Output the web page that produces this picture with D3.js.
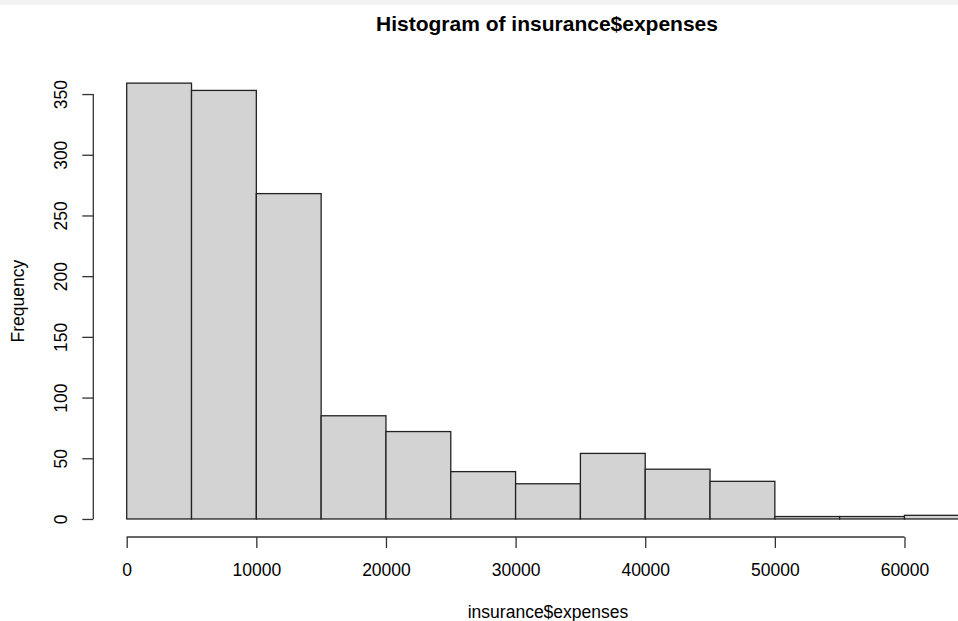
<!DOCTYPE html>
<html>
<head>
<meta charset="utf-8">
<script src="https://cdn.jsdelivr.net/npm/d3@7"></script>
<style>
  html, body { margin: 0; padding: 0; background: #fff; }
  svg { display: block; font-family: "Liberation Sans", Arial, sans-serif; }
</style>
</head>
<body>
<svg id="chart" width="958" height="621"></svg>
<script>
// Histogram bins (lower breaks) and counts
const breaks = [0, 5000, 10000, 15000, 20000, 25000, 30000, 35000, 40000, 45000, 50000, 55000, 60000, 65000];
const counts = [359, 353, 268, 85, 72, 39, 29, 54, 41, 31, 2, 2, 3];
const xTicks = [0, 10000, 20000, 30000, 40000, 50000, 60000];
const yTicks = [0, 50, 100, 150, 200, 250, 300, 350];
const title = "Histogram of insurance$expenses";
const xLabel = "insurance$expenses";
const yLabel = "Frequency";

const svg = d3.select("#chart");
const W = 958, H = 621;

// plot region (R-style 4% expansion of data ranges)
const plot = { left: 93, right: 1003, top: 65.7, bottom: 536.4 };
const xr = [breaks[0], breaks[breaks.length - 1]];
const xpad = (xr[1] - xr[0]) * 0.04;
const yr = [0, d3.max(counts)];
const ypad = (yr[1] - yr[0]) * 0.04;

const x = d3.scaleLinear().domain([xr[0] - xpad, xr[1] + xpad]).range([plot.left, plot.right]);
const y = d3.scaleLinear().domain([yr[0] - ypad, yr[1] + ypad]).range([plot.bottom, plot.top]);

// top gray band
svg.append("rect").attr("x", 0).attr("y", 0).attr("width", W).attr("height", 5).attr("fill", "#f2f2f2");

// bars
const bins = counts.map((c, i) => ({ x0: breaks[i], x1: breaks[i + 1], c }));
svg.append("g").selectAll("rect").data(bins).join("rect")
  .attr("x", d => x(d.x0))
  .attr("y", d => y(d.c))
  .attr("width", d => x(d.x1) - x(d.x0))
  .attr("height", d => y(0) - y(d.c))
  .attr("fill", "#d3d3d3")
  .attr("stroke", "#222")
  .attr("stroke-width", 1.3);

const axisColor = "#333";
const fs = 17.5;

// x axis
const xAxis = svg.append("g").attr("transform", `translate(0,${plot.bottom + 0.6})`)
  .call(d3.axisBottom(x).tickValues(xTicks).tickSize(11).tickSizeOuter(0).tickFormat(d3.format("d")));
xAxis.select(".domain").remove();
xAxis.append("line")
  .attr("x1", x(xTicks[0])).attr("x2", x(xTicks[xTicks.length - 1]))
  .attr("y1", 0).attr("y2", 0)
  .attr("stroke", axisColor).attr("stroke-width", 1.3);
xAxis.selectAll(".tick line").attr("stroke", axisColor).attr("stroke-width", 1.3);
xAxis.selectAll(".tick text")
  .attr("y", 26).attr("dy", "0.716em")
  .attr("font-size", fs).attr("font-family", "Liberation Sans, Arial, sans-serif")
  .attr("fill", "#000");

// y axis
const yAxis = svg.append("g").attr("transform", `translate(${plot.left + 0.3},0)`)
  .call(d3.axisLeft(y).tickValues(yTicks).tickSize(11).tickSizeOuter(0).tickFormat(d3.format("d")));
yAxis.select(".domain").remove();
yAxis.append("line")
  .attr("x1", 0).attr("x2", 0)
  .attr("y1", y(yTicks[0])).attr("y2", y(yTicks[yTicks.length - 1]))
  .attr("stroke", axisColor).attr("stroke-width", 1.3);
yAxis.selectAll(".tick line").attr("stroke", axisColor).attr("stroke-width", 1.3);
yAxis.selectAll(".tick text")
  .attr("x", null).attr("dy", null)
  .attr("transform", `translate(${67 - (plot.left + 0.3)},0) rotate(-90)`)
  .attr("text-anchor", "middle")
  .attr("font-size", fs).attr("font-family", "Liberation Sans, Arial, sans-serif")
  .attr("fill", "#000");

// title
svg.append("text")
  .attr("x", (plot.left + plot.right) / 2 - 1).attr("y", 31)
  .attr("text-anchor", "middle")
  .attr("font-size", 21).attr("font-weight", "bold")
  .attr("fill", "#000")
  .text(title);

// x label
svg.append("text")
  .attr("x", (plot.left + plot.right) / 2).attr("y", 618)
  .attr("text-anchor", "middle")
  .attr("font-size", fs).attr("fill", "#000")
  .text(xLabel);

// y label
svg.append("text")
  .attr("transform", `translate(23.5,${(plot.top + plot.bottom) / 2}) rotate(-90)`)
  .attr("text-anchor", "middle")
  .attr("font-size", fs).attr("fill", "#000")
  .text(yLabel);
</script>
</body>
</html>
